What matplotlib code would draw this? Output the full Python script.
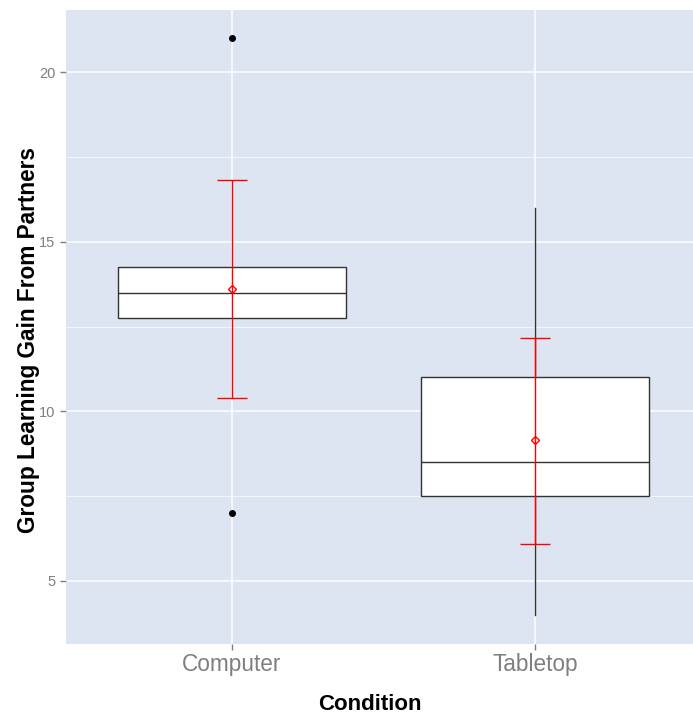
"boxplot of group learning gain by condition, ggplot look"
import numpy as np
import matplotlib
matplotlib.use("Agg")
from matplotlib import pyplot as plt

plt.rcParams['font.family'] = ['Liberation Sans', 'DejaVu Sans']

conditions = ["Computer", "Tabletop"]
# box stats
q1 = [12.75, 7.5]
med = [13.5, 8.5]
q3 = [14.25, 11.0]
whislo = [12.75, 4.0]
whishi = [14.25, 16.0]
outliers = [[21.0, 7.0], []]
# red mean +- error bars
means = [13.62, 9.15]
err_lo = [10.39, 6.08]
err_hi = [16.83, 12.16]

BG = "#DCE5F1"

fig = plt.figure(figsize=(6.93, 7.16), dpi=100)
ax = fig.add_axes([66/693, 1 - 643.5/716, 1 - 66/693, (643.5 - 9.5)/716])
ax.set_facecolor(BG)

pos = np.arange(1, len(conditions) + 1)
stats = []
for i in range(len(conditions)):
    stats.append(dict(q1=q1[i], med=med[i], q3=q3[i], whislo=whislo[i],
                      whishi=whishi[i], fliers=outliers[i]))
ax.bxp(stats, positions=pos, widths=0.75, patch_artist=True, showcaps=False,
       boxprops=dict(facecolor="white", edgecolor="#333333", linewidth=1.0),
       medianprops=dict(color="#333333", linewidth=1.0),
       whiskerprops=dict(color="#333333", linewidth=1.0),
       flierprops=dict(marker="o", markerfacecolor="black", markeredgecolor="black",
                       markersize=4),
       zorder=3)

yerr = [np.array(means) - np.array(err_lo), np.array(err_hi) - np.array(means)]
ax.errorbar(pos, means, yerr=yerr, fmt="none", ecolor="red", elinewidth=1.0,
            capsize=11, capthick=1.0, zorder=4)
ax.plot(pos, means, linestyle="none", marker="D", markersize=4.5,
        markerfacecolor="none", markeredgecolor="red", markeredgewidth=1.0, zorder=5)

ax.set_xlim(0.454, 2.52)
ax.set_ylim(3.15, 21.85)
ax.set_xticks(pos)
ax.set_xticklabels(conditions, fontsize=16.3, color="#7F7F7F")
ax.set_yticks([5, 10, 15, 20])
ax.set_yticks([7.5, 12.5, 17.5], minor=True)
ax.tick_params(axis="y", labelsize=10.5, labelcolor="#7F7F7F", color="#7F7F7F",
               length=4, width=1.0)
ax.tick_params(axis="y", which="minor", length=0)
ax.tick_params(axis="x", color="#7F7F7F", length=4, width=1.0, pad=3)

ax.grid(True, which="major", color="white", linewidth=1.1, zorder=0)
ax.grid(True, which="minor", axis="y", color="white", linewidth=0.5, zorder=0)
ax.set_axisbelow(True)
for s in ax.spines.values():
    s.set_visible(False)

ax.set_xlabel("Condition", fontsize=16, fontweight="bold")
ax.set_ylabel("Group Learning Gain From Partners", fontsize=16.3, fontweight="bold")
# ggplot panel was a bit wider than this crop, so titles sit off-centre
ax.xaxis.set_label_coords(0.485, -0.079)
ax.yaxis.set_label_coords(-0.042, 0.479)

plt.savefig("out.png", dpi=100)
